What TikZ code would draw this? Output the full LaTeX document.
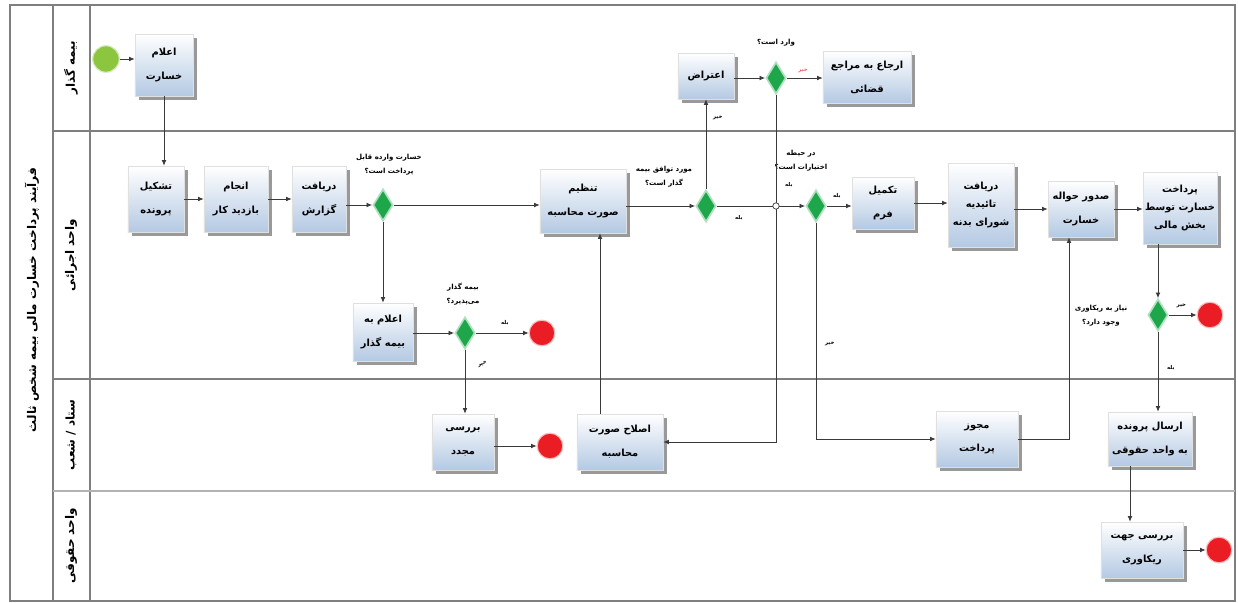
\documentclass[tikz,border=0pt]{standalone}
\usepackage{fontspec}
\usepackage{tikz}
\usetikzlibrary{positioning,arrows.meta,shapes.geometric,shadows,calc}
\newfontfamily\arabicfont[Script=Arabic]{DejaVu Sans}
\TeXXeTstate=1
\definecolor{BPFrame}{HTML}{7F7F7F}
\definecolor{BPLine}{HTML}{3A3A3A}
\definecolor{BPBlue}{HTML}{B4C9E3}
\definecolor{BPGreen}{HTML}{1EA64A}
\definecolor{BPStart}{HTML}{8CC63F}
\definecolor{BPRed}{HTML}{EA1C24}
\newcommand{\fa}[1]{\beginR #1\endR}
\tikzset{
  bptask/.style={
    rectangle,
    draw=black!12,
    line width=0.4pt,
    top color=white,
    bottom color=BPBlue,
    align=center,
    inner sep=2pt,
    font=\arabicfont\bfseries\fontsize{7}{17}\selectfont,
    minimum width=15mm,
    minimum height=15mm,
    general shadow={fill=black!40,shadow xshift=0.9mm,shadow yshift=-0.9mm}
  },
  bpgate/.style={diamond,fill=BPGreen,draw=BPGreen!35,line width=1.2pt,
    minimum width=5mm,minimum height=8mm,inner sep=0pt},
  bpstart/.style={circle,fill=BPStart,draw=BPStart!40,line width=0.8pt,minimum size=6.6mm,inner sep=0pt},
  bpend/.style={circle,fill=BPRed,draw=BPRed!30,line width=0.8pt,minimum size=6.4mm,inner sep=0pt},
  bpcross/.style={circle,draw=BPLine,fill=white,line width=0.5pt,minimum size=1.6mm,inner sep=0pt},
  bparrow/.style={-{Latex[length=1.4mm,width=1.2mm]},line width=0.6pt,draw=BPLine},
  bpquest/.style={font=\arabicfont\bfseries\fontsize{5}{10}\selectfont,align=center,inner sep=1pt},
  bpans/.style={font=\arabicfont\bfseries\fontsize{3.8}{5}\selectfont,inner sep=0.5pt},
  bplane/.style={font=\arabicfont\bfseries\fontsize{8.5}{10}\selectfont,rotate=90},
  bpframe/.style={draw=BPFrame,line width=1.1pt},
}

\begin{document}
\begin{tikzpicture}[x=0.025cm,y=-0.025cm]
  \useasboundingbox (0,0) rectangle (1238,603);

  % pool and lanes
  \draw[bpframe] (10,5) rectangle (1235,601);
  \draw[bpframe] (53,5) -- (53,601);
  \draw[bpframe] (90,5) -- (90,601);
  \draw[bpframe] (53,131) -- (1235,131);
  \draw[bpframe] (53,379) -- (1235,379);
  \draw[bpframe,draw=BPFrame!60] (53,491) -- (1235,491);

  \node[bplane] (pool) at (32,300) {\fa{فرآیند پرداخت خسارت مالی بیمه شخص ثالث}};
  \node[bplane] (lane1) at (71,68) {\fa{بیمه گذار}};
  \node[bplane] (lane2) at (71,255) {\fa{واحد اجرائی}};
  \node[bplane] (lane3) at (71,435) {\fa{ستاد / شعب}};
  \node[bplane] (lane4) at (71,546) {\fa{واحد حقوقی}};

  % tasks
  \node[bpstart] (start) at (106,59) {};
  \node[bptask,minimum width=14.5mm,minimum height=15.5mm] (ealam) at (164,65) {\fa{اعلام}\\\fa{خسارت}};
  \node[bptask,minimum width=14mm,minimum height=16.5mm] (tashkil) at (156,199) {\fa{تشکیل}\\\fa{پرونده}};
  \node[bptask,minimum width=16mm,minimum height=16.5mm] (bazdid) at (236,199) {\fa{انجام}\\\fa{بازدید کار}};
  \node[bptask,minimum width=13.5mm,minimum height=16.5mm] (gozaresh) at (319,199) {\fa{دریافت}\\\fa{گزارش}};
  \node[bpgate] (g1) at (383,205) {};

  \node[bptask,minimum width=15mm,minimum height=14.5mm] (ealamb) at (383,332) {\fa{اعلام به}\\\fa{بیمه گذار}};
  \node[bpgate] (g2) at (465,333) {};
  \node[bpend] (end1) at (542,333) {};
  \node[bptask,minimum width=15.5mm,minimum height=14mm] (baresi) at (463,442) {\fa{بررسی}\\\fa{مجدد}};
  \node[bpend] (end2) at (550,446) {};

  \node[bptask,minimum width=21.5mm,minimum height=16mm] (tanzim) at (583,201) {\fa{تنظیم}\\\fa{صورت محاسبه}};
  \node[bptask,minimum width=21.5mm,minimum height=14mm] (eslah) at (620,442) {\fa{اصلاح صورت}\\\fa{محاسبه}};
  \node[bpgate] (g3) at (706,206) {};

  \node[bptask,minimum width=14mm,minimum height=11.5mm] (eteraz) at (706,76) {\fa{اعتراض}};
  \node[bpgate] (g5) at (776,78) {};
  \node[bptask,minimum width=22mm,minimum height=13mm] (erja) at (867,77) {\fa{ارجاع به مراجع}\\\fa{قضائی}};

  \node[bpgate] (g4) at (816,206) {};
  \node[bptask,minimum width=15.5mm,minimum height=13mm] (takmil) at (883,203) {\fa{تکمیل}\\\fa{فرم}};
  \node[bptask,minimum width=16.5mm,minimum height=21mm] (taeed) at (981,205) {\fa{دریافت}\\[-1.5mm]\fa{تائیدیه}\\[-1.5mm]\fa{شورای بدنه}};
  \node[bptask,minimum width=16.5mm,minimum height=14mm] (sodur) at (1081,209) {\fa{صدور حواله}\\\fa{خسارت}};
  \node[bptask,minimum width=18.5mm,minimum height=18mm,inner sep=1pt] (pardakht) at (1180,208) {\fa{پرداخت}\\[-1.5mm]\fa{خسارت توسط}\\[-1.5mm]\fa{بخش مالی}};
  \node[bptask,minimum width=20.5mm,minimum height=14mm] (mojavez) at (977,439) {\fa{مجوز}\\\fa{پرداخت}};

  \node[bpgate] (g6) at (1158,315) {};
  \node[bpend] (end3) at (1210,315) {};
  \node[bptask,minimum width=21mm,minimum height=13.5mm] (ersal) at (1150,439) {\fa{ارسال پرونده}\\\fa{به واحد حقوقی}};
  \node[bptask,minimum width=20.5mm,minimum height=14mm] (baresiR) at (1142,550) {\fa{بررسی جهت}\\\fa{ریکاوری}};
  \node[bpend] (end4) at (1219,550) {};

  % questions
  \node[bpquest] (q1) at (389,165) {\fa{خسارت وارده قابل}\\\fa{پرداخت است؟}};
  \node[bpquest] (q2) at (463,294) {\fa{بیمه گذار}\\\fa{می‌پذیرد؟}};
  \node[bpquest] (q3) at (664,177) {\fa{مورد توافق بیمه}\\\fa{گذار است؟}};
  \node[bpquest] (q5) at (776,43) {\fa{وارد است؟}};
  \node[bpquest] (q4) at (801,161) {\fa{در حیطه}\\\fa{اختیارات است؟}};
  \node[bpquest] (q6) at (1101,316) {\fa{نیاز به ریکاوری}\\\fa{وجود دارد؟}};

  % flows
  \draw[bparrow] (start) -- (start -| ealam.west);
  \draw[bparrow] (ealam) -- (ealam |- tashkil.north);
  \draw[bparrow] (tashkil) -- (bazdid);
  \draw[bparrow] (bazdid) -- (gozaresh);
  \draw[bparrow] (gozaresh.east |- g1) -- (g1);
  \draw[bparrow] (g1) -- (g1 -| tanzim.west);
  \draw[bparrow] (g1) -- (g1 |- ealamb.north);
  \draw[bparrow] (ealamb.east |- g2) -- (g2);
  \draw[bparrow] (g2) -- (end1) node[bpans,pos=0.55,above=1.5mm] (y2) {\fa{بله}};
  \draw[bparrow] (g2) -- (g2 |- baresi.north) node[bpans,pos=0.25,right=3mm,rotate=20] (n2) {\fa{خیر}};
  \draw[bparrow] (baresi.east |- end2) -- (end2);
  \draw[bparrow] ([xshift=-5mm]eslah.north) -- ([xshift=-5mm]eslah.north |- tanzim.south);
  \draw[bparrow] (tanzim.east |- g3) -- (g3);
  \draw[bparrow] (g3) -- (g3 |- eteraz.south) node[bpans,pos=0.8,right=1.5mm] (n3) {\fa{خیر}};
  \draw[bparrow] (g3) -- (g4) node[bpans,pos=0.25,below=2mm] (y3) {\fa{بله}};
  \draw[bparrow] (eteraz.east |- g5) -- (g5);
  \draw[bparrow] (g5) -- (g5 -| erja.west) node[bpans,pos=0.45,above=1mm,text=BPRed!70] (n5) {\fa{خیر}};
  \draw[bparrow] (g5) |- (eslah) node[bpans,pos=0.13,right=2mm] (y5) {\fa{بله}};
  \node[bpcross] (cross) at (g5 |- g3) {};
  \draw[bparrow] (g4) -- (g4 -| takmil.west) node[bpans,pos=0.4,above=1.5mm] (y4) {\fa{بله}};
  \draw[bparrow] (g4) |- (mojavez) node[bpans,pos=0.28,right=2mm] (n4) {\fa{خیر}};
  \draw[bparrow] (takmil) -- (takmil -| taeed.west);
  \draw[bparrow] (taeed.east |- sodur) -- (sodur);
  \draw[bparrow] (sodur) -- (sodur -| pardakht.west);
  \draw[bparrow] (mojavez.east) -| ([xshift=-3mm]sodur.south);
  \draw[bparrow] (g6 |- pardakht.south) -- (g6);
  \draw[bparrow] (g6) -- (end3) node[bpans,pos=0.45,above=1.5mm] (n6) {\fa{خیر}};
  \draw[bparrow] (g6) -- (g6 |- ersal.north) node[bpans,pos=0.45,right=2mm] (y6) {\fa{بله}};
  \draw[bparrow] ([xshift=-5mm]ersal.south) -- ([xshift=-5mm]ersal.south |- baresiR.north);
  \draw[bparrow] (baresiR) -- (end4);
\end{tikzpicture}
\end{document}
